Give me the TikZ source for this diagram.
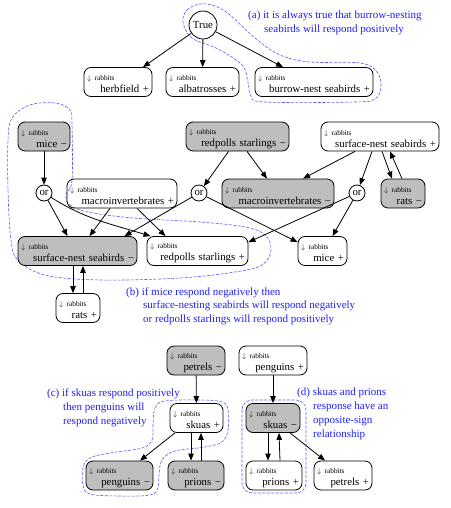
\documentclass[tikz,border=0pt]{standalone}
\usepackage{fontspec}
\setmainfont{Liberation Serif}
\usetikzlibrary{arrows.meta,calc}
\definecolor{nodegray}{RGB}{190,190,190}
\definecolor{annblue}{RGB}{30,30,255}
\definecolor{outblue}{RGB}{90,90,255}
\newcommand{\rabl}{\makebox[\linewidth][l]{\rule{0pt}{10pt}\fontsize{7.3}{8}\selectfont$\downarrow$ rabbits}}
\begin{document}
\begin{tikzpicture}[x=1pt,y=-1pt,
  box/.style={draw, line width=0.8pt, rounded corners=7pt, minimum height=29pt,
    inner xsep=3pt, inner ysep=2pt, align=right,
    font=\fontsize{10.8}{13}\selectfont, text width=#1},
  shaded/.style={fill=nodegray},
  orn/.style={draw, circle, line width=0.8pt, minimum size=16pt, inner sep=0pt,
    font=\fontsize{10.8}{13}\selectfont},
  e/.style={line width=0.8pt, -{Triangle[length=7pt,width=5.5pt]}},
  ann/.style={text=annblue, font=\fontsize{11}{13.8}\selectfont, align=left,
    anchor=base west, inner sep=0pt},
  outl/.style={draw=outblue, line width=0.6pt, dash pattern=on 3pt off 1.5pt}]
\useasboundingbox (0,0) rectangle (450,508);

% outlines
\draw[outl] plot[smooth cycle, tension=0.6] coordinates {(183,22) (187,10) (200,4) (215,6) (230,15) (255,38) (280,55) (310,62) (360,63) (377,72) (381,87) (375,99) (355,102) (265,102) (251,96) (248,82) (242,65) (218,49) (192,38)};
\draw[outl] plot[smooth cycle, tension=0.6] coordinates {(8,140) (12,118) (30,105) (55,103) (70,110) (72,125) (72,180) (66,195) (70,205) (88,212) (133,218) (200,222) (245,227) (265,235) (271,250) (262,265) (235,272) (180,278) (100,280) (45,275) (18,260) (11,240) (8,190)};
\draw[outl] plot[smooth cycle, tension=0.6] coordinates {(153,425) (155,408) (165,401) (200,400) (222,402) (228,410) (228,430) (222,442) (205,447) (175,451) (162,460) (159,475) (158,488) (150,495) (120,496) (90,494) (83,485) (83,468) (90,458) (110,453) (142,448) (152,440)};
\draw[outl, rounded corners=10pt] (242,400) rectangle (306,493);

% annotations (anchor = baseline of the last line)
\node[ann] (annA) at (248,32.5) {(a) it is always true that burrow-nesting\\\hspace*{16pt}seabirds will respond positively};
\node[ann, font=\fontsize{11}{13.5}\selectfont] (annB) at (126,322) {(b) if mice respond negatively then\\\hspace*{17pt}surface-nesting seabirds will respond negatively\\\hspace*{17pt}or redpolls starlings will respond positively};
\node[ann] (annC) at (47,424) {(c) if skuas respond positively\\\hspace*{16pt}then penguins will\\\hspace*{16pt}respond negatively};
\node[ann, font=\fontsize{11}{13.7}\selectfont] (annD) at (297,437) {(d) skuas and prions\\\hspace*{16pt}response have an\\\hspace*{16pt}opposite-sign\\\hspace*{16pt}relationship};

% nodes
\node[draw, circle, line width=0.8pt, minimum size=28pt, inner sep=0pt, font=\fontsize{10.8}{13}\selectfont] (T) at (203,25) {True};
\node[box=62pt] (herb) at (118,82) {\rabl\\[-1pt]herbfield +};
\node[box=67pt] (alb) at (202.5,82) {\rabl\\[-1pt]albatrosses +};
\node[box=112pt] (burrow) at (314,82) {\rabl\\[-1pt]burrow-nest seabirds +};

\node[box=46pt, shaded] (miceM) at (44,136.5) {\rabl\\[-1pt]mice −};
\node[box=97pt, shaded] (redM) at (237.5,136.5) {\rabl\\[-1pt]redpolls starlings −};
\node[box=112pt] (surfP) at (380,136.5) {\rabl\\[-1pt]surface-nest seabirds +};

\node[orn] (or1) at (44,193) {or};
\node[box=104pt] (macP) at (122,193.5) {\rabl\\[-1pt]macroinvertebrates +};
\node[orn] (or2) at (199,193) {or};
\node[box=106pt, shaded] (macM) at (278,193.5) {\rabl\\[-1pt]macroinvertebrates −};
\node[orn] (or3) at (357,193) {or};
\node[box=38pt, shaded] (ratsM) at (403,193.5) {\rabl\\[-1pt]rats −};

\node[box=113pt, shaded] (surfM) at (77.5,251) {\rabl\\[-1pt]surface-nest seabirds −};
\node[box=95pt] (redP) at (197.5,251) {\rabl\\[-1pt]redpolls starlings +};
\node[box=43pt] (miceP) at (322.5,251) {\rabl\\[-1pt]mice +};
\node[box=38pt] (ratsP) at (78,308) {\rabl\\[-1pt]rats +};

\node[box=52pt, shaded] (petM) at (196,360.5) {\rabl\\[-1pt]petrels −};
\node[box=47pt] (skP) at (196.5,418) {\rabl\\[-1pt]skuas +};
\node[box=61pt, shaded] (pengM) at (119.5,475.5) {\rabl\\[-1pt]penguins −};
\node[box=50pt, shaded] (prM) at (196,475.5) {\rabl\\[-1pt]prions −};

\node[box=62pt] (pengP) at (273,360.5) {\rabl\\[-1pt]penguins +};
\node[box=48pt, shaded] (skM) at (273,418) {\rabl\\[-1pt]skuas −};
\node[box=50pt] (prP) at (274,475.5) {\rabl\\[-1pt]prions +};
\node[box=52pt] (petP) at (343,475.5) {\rabl\\[-1pt]petrels +};

% edges
\draw[e] (T) -- ([xshift=25pt]herb.north);
\draw[e] (T) -- (alb);
\draw[e] (T) -- ([xshift=-31pt]burrow.north);

\draw[e] (miceM) -- (or1);
\draw[e] (or1) -- ([xshift=-10pt]surfM.north);
\draw[e] (or1) to[out=-32,in=163] ([xshift=-47pt]redP.north);
\draw[e] ([xshift=-12pt]macP.south) -- ([xshift=12pt]surfM.north);
\draw[e] ([xshift=15pt]macP.south) -- ([xshift=-32pt]redP.north);
\draw[e] (or2) -- ([xshift=47pt]surfM.north);
\draw[e] (or2) -- ([yshift=-6pt]miceP.north west);
\draw[e] (or3) -- ([yshift=-6pt]redP.north east);
\draw[e] (or3) -- ([xshift=10pt]miceP.north);
\draw[e] ([xshift=-9pt]redM.south) -- (or2);
\draw[e] ([xshift=9.5pt]redM.south) -- ([xshift=-11pt]macM.north);
\draw[e] ([xshift=-25pt]surfP.south) -- ([xshift=25pt]macM.north);
\draw[e] ([xshift=-8pt]surfP.south) -- (or3);
\draw[e] ([xshift=2pt]surfP.south) -- ([xshift=-11pt]ratsM.north);
\draw[e] ([xshift=-1pt]ratsM.north) -- ([xshift=10pt]surfP.south);
\draw[e] ([xshift=-4.5pt]surfM.south) -- ([xshift=-5pt]ratsP.north);
\draw[e] ([xshift=5pt]ratsP.north) -- ([xshift=5.5pt]surfM.south);

\draw[e] (petM) -- (skP);
\draw[e] ([xshift=-21.5pt]skP.south) -- ([xshift=20.5pt]pengM.north);
\draw[e] ([xshift=-5.5pt]skP.south) -- ([xshift=-5pt]prM.north);
\draw[e] ([xshift=5pt]prM.north) -- ([xshift=4.5pt]skP.south);
\draw[e] (pengP) -- (skM);
\draw[e] ([xshift=-5pt]skM.south) -- ([xshift=-6pt]prP.north);
\draw[e] ([xshift=6pt]prP.north) -- ([xshift=6pt]skM.south);
\draw[e] ([xshift=17pt]skM.south) -- ([xshift=-18pt]petP.north);
\end{tikzpicture}
\end{document}
